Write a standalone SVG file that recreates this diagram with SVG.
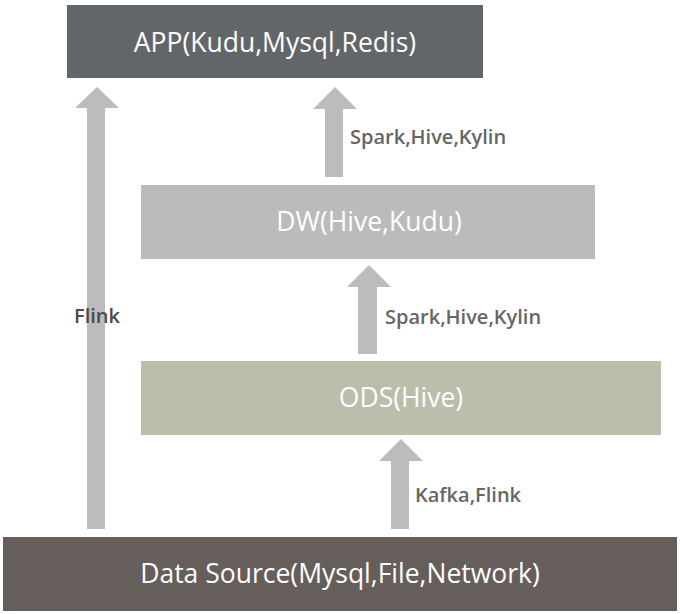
<svg xmlns="http://www.w3.org/2000/svg" width="680" height="614" viewBox="0 0 680 614">
<style>
.box-t{font-family:"Open Sans","DejaVu Sans",sans-serif;font-size:26.5px;fill:#ffffff;text-anchor:middle}
.lbl{font-family:"Open Sans","DejaVu Sans",sans-serif;font-size:20px;fill:#666666;font-weight:600}
.arrow{fill:#bcbcbc}
</style>
<rect width="680" height="614" fill="#ffffff"/>
<g id="connectors">
<path class="arrow" d="M87,529 V108 H75 L97,87 L119,108 H105 V529 Z"/>
<path class="arrow" d="M325,177 V109 H313 L335,87 L357,109 H343 V177 Z"/>
<path class="arrow" d="M358,354 V287 H347 L369,265 L391,287 H377 V354 Z"/>
<path class="arrow" d="M391,529 V461 H379 L401,439 L423,461 H409 V529 Z"/>
<text class="lbl" x="74" y="323" style="fill:#4d4a4a">Flink</text>
<text class="lbl" x="350" y="144">Spark,Hive,Kylin</text>
<text class="lbl" x="385" y="324">Spark,Hive,Kylin</text>
<text class="lbl" x="415" y="502">Kafka,Flink</text>
</g>
<g id="app">
<rect x="67" y="5" width="416" height="73" fill="#636669"/>
<text class="box-t" x="275" y="52">APP(Kudu,Mysql,Redis)</text>
</g>
<g id="dw">
<rect x="141" y="185" width="454" height="74" fill="#bbbbbb"/>
<text class="box-t" x="369" y="231">DW(Hive,Kudu)</text>
</g>
<g id="ods">
<rect x="141" y="361" width="520" height="74" fill="#bcbdab"/>
<text class="box-t" x="401" y="407">ODS(Hive)</text>
</g>
<g id="datasource">
<rect x="3" y="537" width="674" height="74" fill="#665e5b"/>
<text class="box-t" x="340" y="583">Data Source(Mysql,File,Network)</text>
</g>
</svg>
